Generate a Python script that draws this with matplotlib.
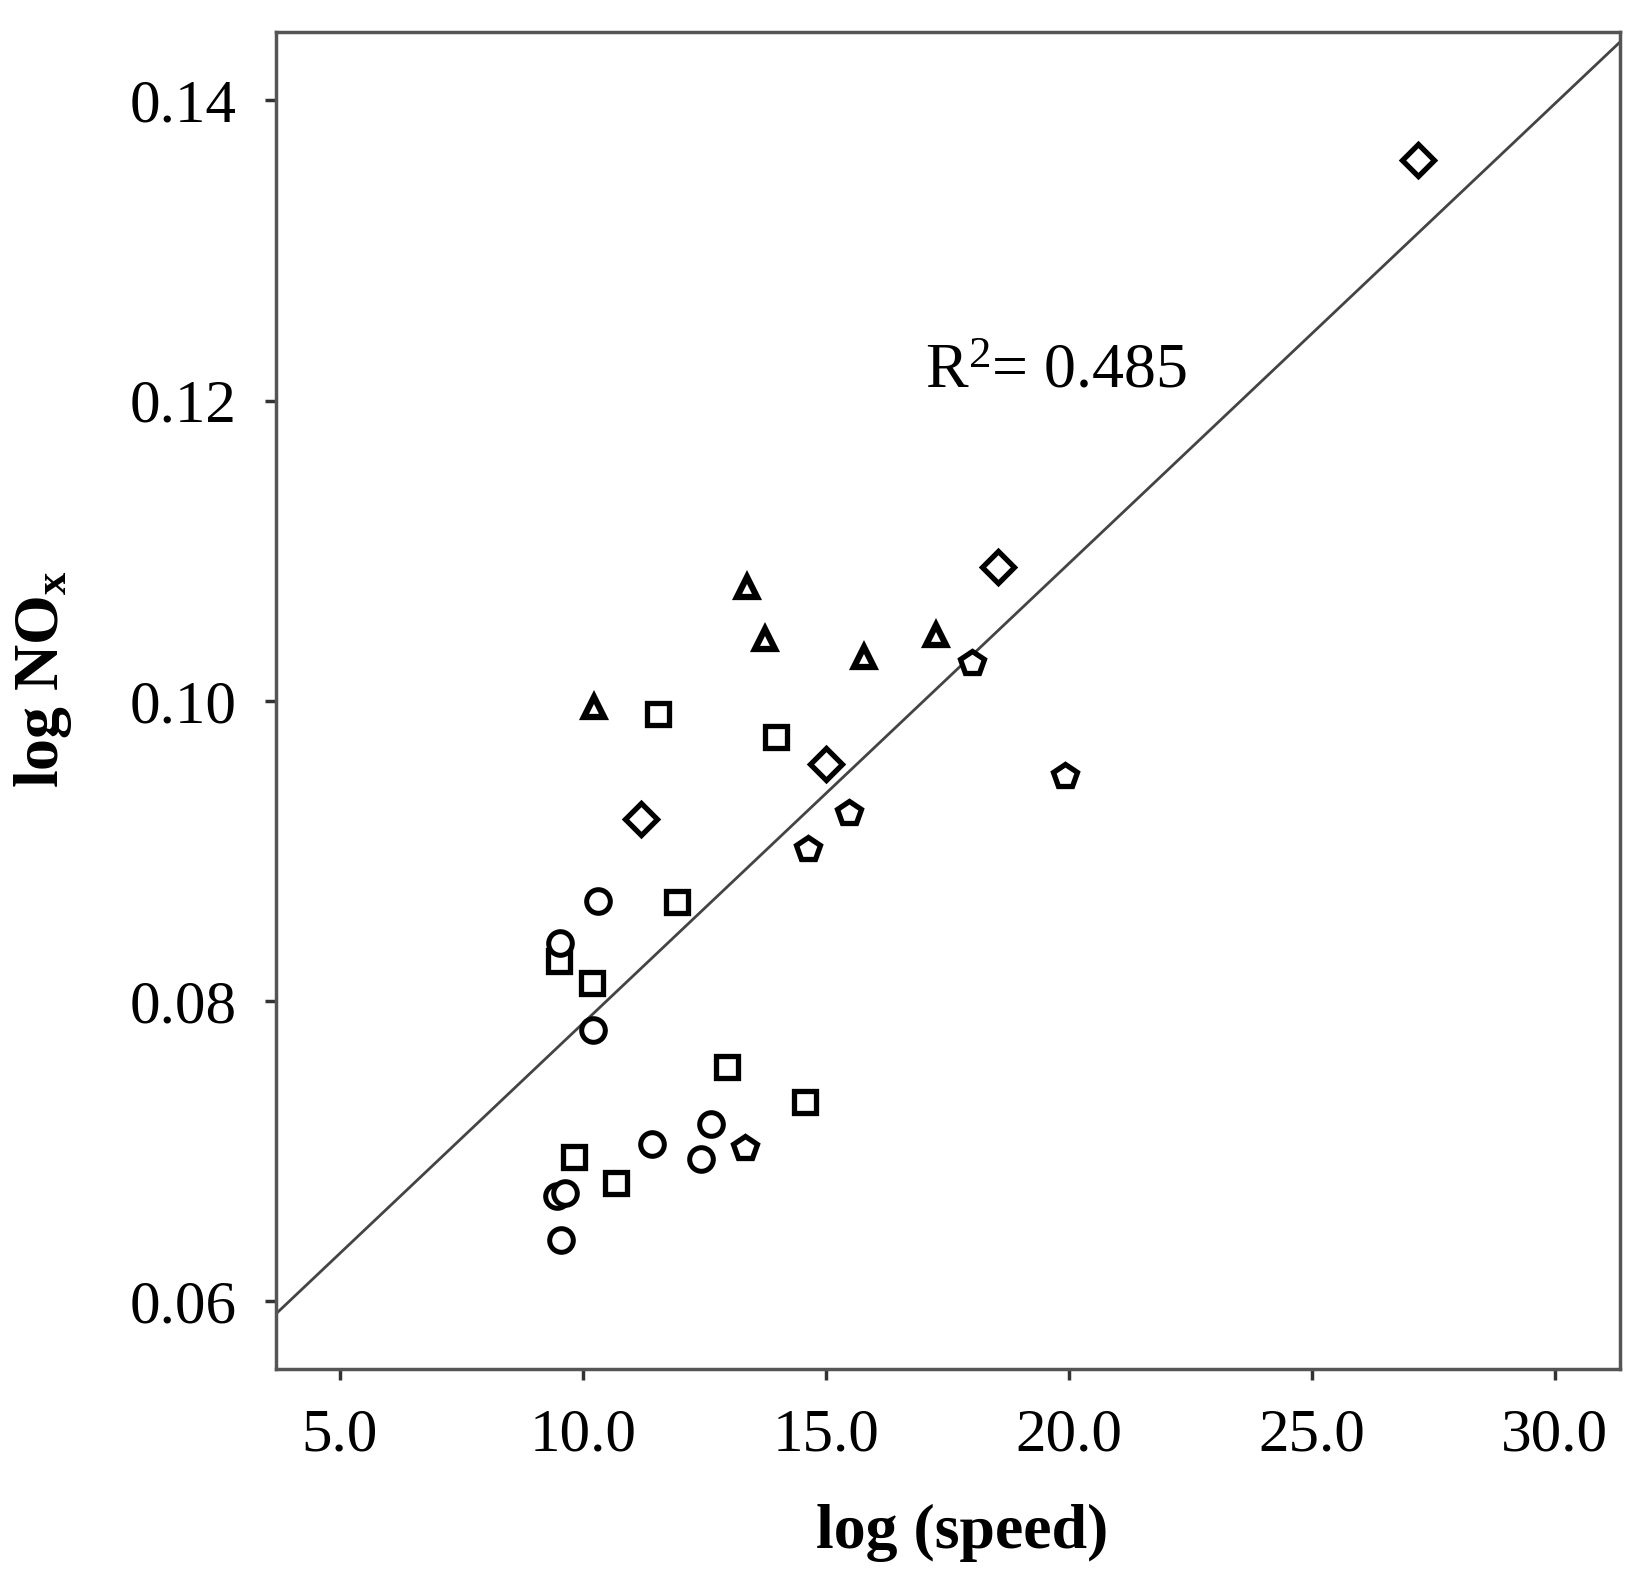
import matplotlib
matplotlib.use("Agg")
import matplotlib.pyplot as plt
import numpy as np

plt.rcParams['font.family'] = ['Liberation Serif', 'DejaVu Serif']
plt.rcParams['mathtext.fontset'] = 'custom'
plt.rcParams['mathtext.rm'] = 'Liberation Serif'
plt.rcParams['mathtext.it'] = 'Liberation Serif:italic'
plt.rcParams['mathtext.bf'] = 'Liberation Serif:bold'

# Data
diamond_x = [27.19, 18.54, 15.00, 11.20]
diamond_y = [0.1360, 0.1089, 0.0958, 0.0921]

pentagon_x = [19.92, 18.02, 15.48, 14.63, 13.33]
pentagon_y = [0.0950, 0.1025, 0.0925, 0.0901, 0.0702]

triangle_x = [10.23, 13.37, 13.76, 15.78, 17.28]
triangle_y = [0.0996, 0.1076, 0.1041, 0.1029, 0.1044]

square_x = [11.55, 13.98, 11.94, 9.51, 10.18, 12.96, 14.57, 9.82, 10.68]
square_y = [0.0991, 0.0976, 0.0866, 0.0827, 0.0812, 0.0756, 0.0733, 0.0696, 0.0679]

circle_x = [10.31, 9.53, 10.21, 11.42, 12.64, 12.44, 9.47, 9.64, 9.56]
circle_y = [0.0867, 0.0839, 0.0781, 0.0705, 0.0718, 0.0695, 0.0670, 0.0672, 0.0641]

fit_slope = 0.003062
fit_intercept = 0.04789
r2_text = "R$^2$= 0.485"

x_ticks = [5.0, 10.0, 15.0, 20.0, 25.0, 30.0]
y_ticks = [0.06, 0.08, 0.10, 0.12, 0.14]

fig = plt.figure(figsize=(16.51, 15.88), dpi=100)
ax = fig.add_axes([0.167, 0.138, 0.814, 0.842])

xlim = (3.68, 31.34)
ylim = (0.05551, 0.14456)

xs = np.array(xlim)
ax.plot(xs, fit_intercept + fit_slope * xs, color='#444444', lw=2.0, zorder=1)

mk = dict(linestyle='none', markerfacecolor='white', markeredgecolor='black', zorder=3)
ax.plot(diamond_x, diamond_y, marker='D', markersize=16, markeredgewidth=3.8, **mk)
ax.plot(pentagon_x, pentagon_y, marker='p', markersize=18, markeredgewidth=3.8, **mk)
ax.plot(triangle_x, triangle_y, marker='^', markersize=14, markeredgewidth=4.5, **mk)
ax.plot(square_x, square_y, marker='s', markersize=16, markeredgewidth=3.8, **mk)
ax.plot(circle_x, circle_y, marker='o', markersize=17, markeredgewidth=3.6, **mk)

ax.text(17.04, 0.1209, r2_text, fontsize=46, color='black', ha='left', va='baseline')

ax.set_xlim(*xlim)
ax.set_ylim(*ylim)
ax.set_xticks(x_ticks)
ax.set_xticklabels([f"{v:.1f}" for v in x_ticks])
ax.set_yticks(y_ticks)
ax.set_yticklabels([f"{v:.2f}" for v in y_ticks])

for sp in ax.spines.values():
    sp.set_color('#555555')
    sp.set_linewidth(2.5)

ax.tick_params(axis='both', direction='out', length=8, width=2.5, color='#333333',
               labelsize=44, pad=20)

ax.set_xlabel("log (speed)", fontsize=46, fontweight='bold', va='center')
ax.set_ylabel("log NO$_\\mathbf{x}$", fontsize=46, fontweight='bold', va='center')
ax.xaxis.set_label_coords(0.511, -0.123)
ax.yaxis.set_label_coords(-0.173, 0.516)

fig.savefig("out.png", dpi=100, facecolor='white')
